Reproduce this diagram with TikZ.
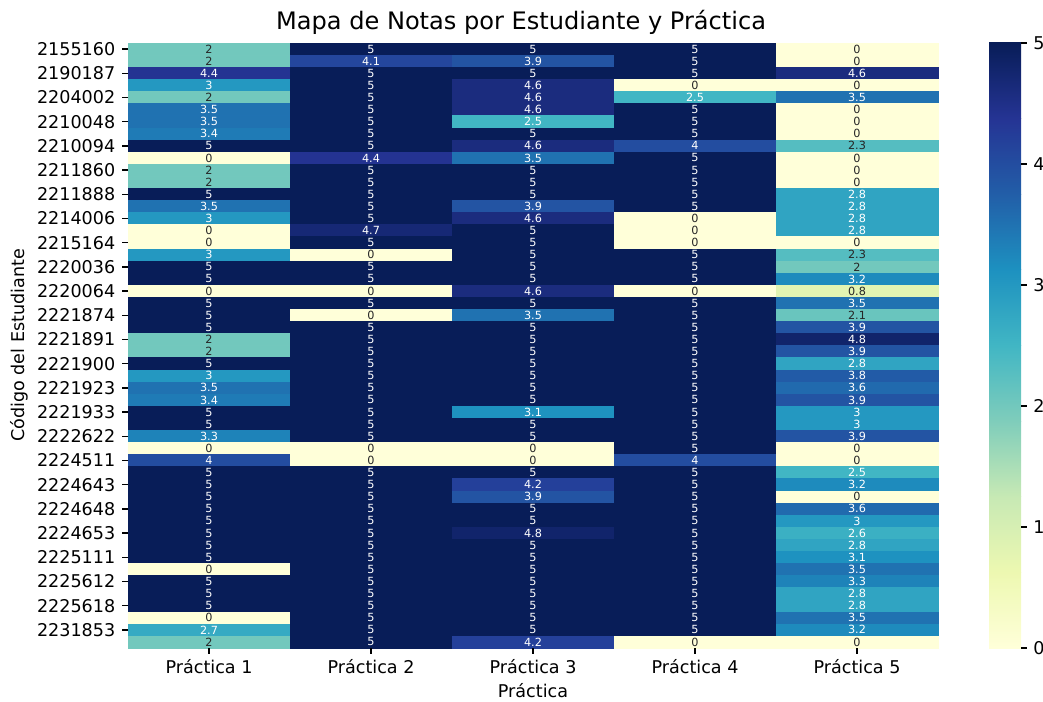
\documentclass[tikz,border=0pt]{standalone}
\usepackage{fontspec}
\setmainfont{DejaVu Sans}
\usepackage{xcolor}
\usetikzlibrary{positioning}

\definecolor{ygb0}{HTML}{FFFFD9}
\definecolor{ygb1}{HTML}{EDF8B1}
\definecolor{ygb2}{HTML}{C7E9B4}
\definecolor{ygb3}{HTML}{7FCDBB}
\definecolor{ygb4}{HTML}{41B6C4}
\definecolor{ygb5}{HTML}{1D91C0}
\definecolor{ygb6}{HTML}{225EA8}
\definecolor{ygb7}{HTML}{253494}
\definecolor{ygb8}{HTML}{081D58}
\definecolor{ink}{HTML}{262626}

% colour of a grade (0..5) on the YlGnBu scale, and its text colour
\newcommand{\notecolour}[1]{%
  \pgfmathsetmacro{\hmt}{#1*1.6}%
  \pgfmathtruncatemacro{\kk}{min(floor(\hmt),7)}%
  \pgfmathtruncatemacro{\kn}{\kk+1}%
  \pgfmathtruncatemacro{\pp}{round((\hmt-\kk)*100)}%
  \colorlet{cellc}{ygb\kn!\pp!ygb\kk}%
  \pgfmathtruncatemacro{\light}{#1>2.4}%
  \ifnum\light=1 \def\anncol{white}\else\def\anncol{ink}\fi}

\tikzset{
  note/.style={inner sep=0pt, font=\fontsize{6.4}{7}\selectfont},
  ticklab/.style={inner sep=0pt, font=\fontsize{10}{12}\selectfont},
  tickmark/.style={line width=0.8pt, black}
}

\begin{document}
\begin{tikzpicture}[x=0.02cm, y=-0.02cm]
  \useasboundingbox (0,0) rectangle (1043,702);

  % cells
  \foreach \r/\pa/\pb/\pc/\pd/\pe in {
    1/2/5/5/5/0, 2/2/4.1/3.9/5/0, 3/4.4/5/5/5/4.6, 4/3/5/4.6/0/0, 5/2/5/4.6/2.5/3.5,
    6/3.5/5/4.6/5/0, 7/3.5/5/2.5/5/0, 8/3.4/5/5/5/0, 9/5/5/4.6/4/2.3, 10/0/4.4/3.5/5/0,
    11/2/5/5/5/0, 12/2/5/5/5/0, 13/5/5/5/5/2.8, 14/3.5/5/3.9/5/2.8, 15/3/5/4.6/0/2.8,
    16/0/4.7/5/0/2.8, 17/0/5/5/0/0, 18/3/0/5/5/2.3, 19/5/5/5/5/2, 20/5/5/5/5/3.2,
    21/0/0/4.6/0/0.8, 22/5/5/5/5/3.5, 23/5/0/3.5/5/2.1, 24/5/5/5/5/3.9, 25/2/5/5/5/4.8,
    26/2/5/5/5/3.9, 27/5/5/5/5/2.8, 28/3/5/5/5/3.8, 29/3.5/5/5/5/3.6, 30/3.4/5/5/5/3.9,
    31/5/5/3.1/5/3, 32/5/5/5/5/3, 33/3.3/5/5/5/3.9, 34/0/0/0/5/0, 35/4/0/0/4/0,
    36/5/5/5/5/2.5, 37/5/5/4.2/5/3.2, 38/5/5/3.9/5/0, 39/5/5/5/5/3.6, 40/5/5/5/5/3,
    41/5/5/4.8/5/2.6, 42/5/5/5/5/2.8, 43/5/5/5/5/3.1, 44/0/5/5/5/3.5, 45/5/5/5/5/3.3,
    46/5/5/5/5/2.8, 47/5/5/5/5/2.8, 48/0/5/5/5/3.5, 49/2.7/5/5/5/3.2, 50/2/5/4.2/0/0}
  {
    \foreach \k/\v in {1/\pa, 2/\pb, 3/\pc, 4/\pd, 5/\pe}
    {
      \notecolour{\v}
      \fill[cellc, draw=cellc, line width=0.2pt] ({128+162*(\k-1)},{43+12.1*(\r-1)}) rectangle ++(162,12.1);
      \node[note, text=\anncol] (c-\r-\k) at ({128+162*(\k-0.5)},{43+12.1*(\r-0.5)}) {\v};
    }
  }

  % student codes
  \foreach \code [count=\i] in {2155160, 2190187, 2204002, 2210048, 2210094, 2211860,
    2211888, 2214006, 2215164, 2220036, 2220064, 2221874, 2221891, 2221900, 2221923,
    2221933, 2222622, 2224511, 2224643, 2224648, 2224653, 2225111, 2225612, 2225618, 2231853}
  {
    \pgfmathsetmacro{\yy}{43+12.1*(2*\i-1.5)}
    \draw[tickmark] (128,\yy) -- (121.8,\yy);
    \node[ticklab, anchor=east] (s-\i) at (115.6,\yy) {\code};
  }

  % practicas
  \foreach \k in {1,...,5}
  {
    \draw[tickmark] ({128+162*(\k-0.5)},648) -- ++(0,6.2);
    \node[ticklab, anchor=north] (p-\k) at ({128+162*(\k-0.5)},659.5) {Práctica \k};
  }

  % colour bar
  \foreach \k in {0,...,7}
  {
    \pgfmathtruncatemacro{\kn}{\k+1}
    \shade[bottom color=ygb\k, top color=ygb\kn] (989,{648-75.625*\k}) rectangle (1021,{648-75.625*(\k+1)});
  }
  \foreach \v in {0,...,5}
  {
    \draw[tickmark] (1021,{648-121*\v}) -- ++(6.2,0);
    \node[ticklab, anchor=west] (b-\v) at (1033,{648-121*\v}) {\v};
  }

  \node[ticklab] (xlab) at (533,691) {Práctica};
  \node[ticklab, rotate=90] (ylab) at (19,345.5) {Código del Estudiante};
  \node[inner sep=0pt, font=\fontsize{13.7}{16}\selectfont] (title) at (521,22) {Mapa de Notas por Estudiante y Práctica};
\end{tikzpicture}
\end{document}
